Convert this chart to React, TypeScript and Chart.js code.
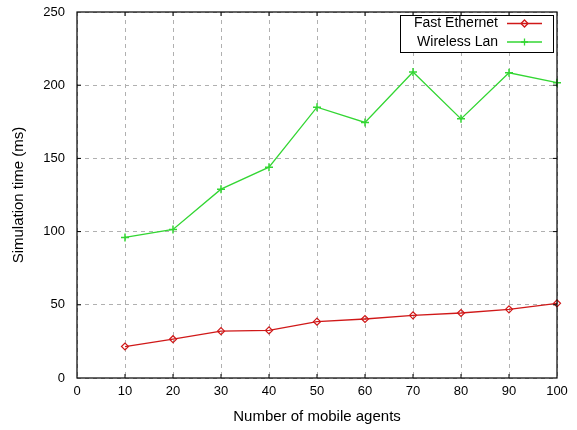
import React, { useEffect, useRef } from "react";
import { Chart, registerables } from "chart.js";

Chart.register(...registerables);

const agents = [10, 20, 30, 40, 50, 60, 70, 80, 90, 100];
const fastEthernet = [21.5, 26.5, 32, 32.5, 38.5, 40.3, 42.8, 44.4, 46.9, 51];
const wirelessLan = [96, 101.5, 129, 144, 185, 174.6, 209, 177, 208.5, 201.7];
const seriesNames = ["Fast Ethernet", "Wireless Lan"];
const seriesColors = ["#d01818", "#33d633"];
const xTitle = "Number of mobile agents";
const yTitle = "Simulation time (ms)";

const FONT = "'Liberation Sans', Arial, sans-serif";

const framePlugin = {
  id: "frame",
  afterDraw(chart: any) {
    const { ctx, chartArea: a, scales } = chart;
    ctx.save();
    ctx.strokeStyle = "#000";
    ctx.lineWidth = 1.2;
    ctx.strokeRect(a.left, a.top, a.right - a.left, a.bottom - a.top);
    // inward ticks
    ctx.lineWidth = 1;
    const xs = scales.x, ys = scales.y;
    for (let v = 10; v < 100; v += 10) {
      const px = xs.getPixelForValue(v);
      ctx.beginPath();
      ctx.moveTo(px, a.top); ctx.lineTo(px, a.top + 4);
      ctx.moveTo(px, a.bottom); ctx.lineTo(px, a.bottom - 4);
      ctx.stroke();
    }
    for (let v = 50; v < 250; v += 50) {
      const py = ys.getPixelForValue(v);
      ctx.beginPath();
      ctx.moveTo(a.left, py); ctx.lineTo(a.left + 4, py);
      ctx.moveTo(a.right, py); ctx.lineTo(a.right - 4, py);
      ctx.stroke();
    }
    // legend
    const bx = 400, by = 15, bw = 153, bh = 37;
    ctx.fillStyle = "#fff";
    ctx.fillRect(bx, by, bw, bh);
    ctx.strokeStyle = "#000";
    ctx.lineWidth = 1;
    ctx.strokeRect(bx + 0.5, by + 0.5, bw, bh);
    ctx.font = `14px ${FONT}`;
    ctx.textAlign = "right";
    ctx.textBaseline = "middle";
    seriesNames.forEach((name, i) => {
      const y = by + 8.5 + i * 18.5;
      ctx.fillStyle = "#000";
      ctx.fillText(name, 498, y);
      ctx.strokeStyle = seriesColors[i];
      ctx.lineWidth = 1.3;
      ctx.beginPath();
      ctx.moveTo(507, y); ctx.lineTo(542, y);
      ctx.stroke();
      const cx = 524.5;
      ctx.beginPath();
      if (i === 0) {
        ctx.moveTo(cx, y - 3.5); ctx.lineTo(cx + 3.5, y); ctx.lineTo(cx, y + 3.5); ctx.lineTo(cx - 3.5, y); ctx.closePath();
      } else {
        ctx.moveTo(cx, y - 3.5); ctx.lineTo(cx, y + 3.5);
        ctx.moveTo(cx - 3.5, y); ctx.lineTo(cx + 3.5, y);
      }
      ctx.stroke();
    });
    ctx.restore();
  },
};

export default function App() {
  const ref = useRef<HTMLCanvasElement>(null);
  useEffect(() => {
    document.body.style.margin = "0";
    const chart = new Chart(ref.current!, {
      type: "line",
      data: {
        datasets: [
          {
            label: seriesNames[0],
            data: agents.map((x, i) => ({ x, y: fastEthernet[i] })),
            borderColor: seriesColors[0],
            backgroundColor: "rgba(0,0,0,0)",
            borderWidth: 1.3,
            pointStyle: "rectRot",
            pointRadius: 3.5,
            pointBorderWidth: 1.2,
            pointBackgroundColor: "rgba(255,255,255,0)",
            pointBorderColor: seriesColors[0],
            tension: 0,
            clip: false as any,
          },
          {
            label: seriesNames[1],
            data: agents.map((x, i) => ({ x, y: wirelessLan[i] })),
            borderColor: seriesColors[1],
            backgroundColor: "rgba(0,0,0,0)",
            borderWidth: 1.3,
            pointStyle: "cross",
            pointRadius: 4,
            pointBorderWidth: 1.5,
            pointBorderColor: seriesColors[1],
            tension: 0,
            clip: false as any,
          },
        ],
      },
      options: {
        animation: false,
        responsive: false,
        layout: { padding: { top: 12, right: 20, left: 0, bottom: 0 } },
        plugins: { legend: { display: false }, tooltip: { enabled: false } },
        scales: {
          x: {
            type: "linear",
            min: 0,
            max: 100,
            afterFit: (s: any) => { s.height = 52; s.paddingLeft = 0; s.paddingRight = 0; },
            ticks: { stepSize: 10, color: "#000", font: { family: FONT, size: 13 }, padding: 6 },
            grid: { color: "#b0b0b0", drawTicks: false, lineWidth: 1 },
            border: { display: false, dash: [4, 4] },
            title: { display: true, text: xTitle, color: "#000", font: { family: FONT, size: 15 }, padding: { top: 0, bottom: 4 } },
          },
          y: {
            type: "linear",
            min: 0,
            max: 250,
            afterFit: (s: any) => { s.width = 77; s.paddingTop = 0; s.paddingBottom = 0; },
            ticks: { stepSize: 50, color: "#000", font: { family: FONT, size: 13 }, padding: 12 },
            grid: { color: "#b0b0b0", drawTicks: false, lineWidth: 1 },
            border: { display: false, dash: [4, 4] },
            title: { display: true, text: yTitle, color: "#000", font: { family: FONT, size: 15 }, padding: { top: 10, bottom: 0 } },
          },
        },
      },
      plugins: [framePlugin],
    } as any);
    return () => chart.destroy();
  }, []);
  return <canvas ref={ref} width={577} height={430} style={{ display: "block" }} />;
}
